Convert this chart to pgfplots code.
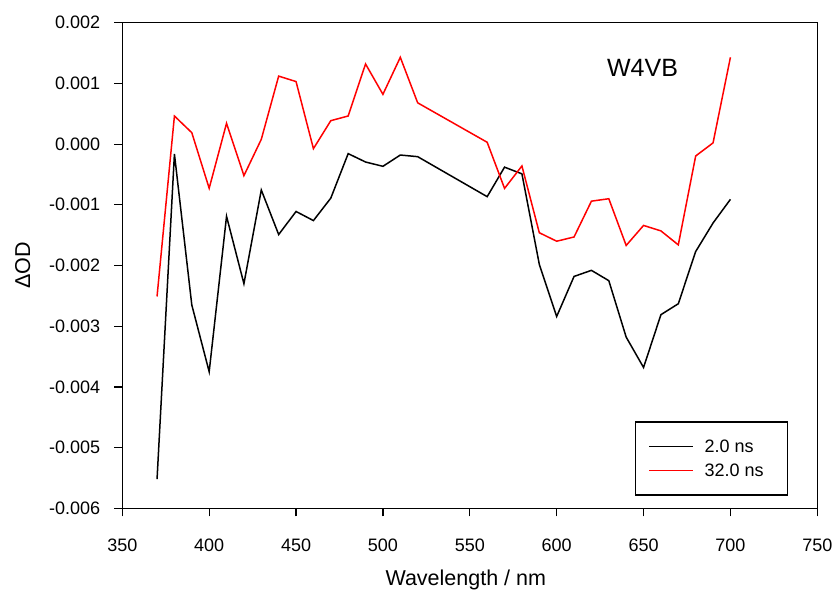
\documentclass[border=0pt]{standalone}
\usepackage{pgfplots}
\pgfplotsset{compat=1.18}
\usepackage{fontspec}
\setmainfont{Liberation Sans}
\begin{document}
\begin{tikzpicture}
\useasboundingbox (0,0) rectangle (837bp,591bp);
\begin{axis}[
  at={(122.3bp,82.7bp)}, anchor=south west,
  scale only axis, width=695bp, height=485.6bp,
  xmin=350, xmax=750, ymin=-0.006, ymax=0.002,
  xtick={350,400,...,750},
  ytick={-0.006,-0.005,-0.004,-0.003,-0.002,-0.001,0,0.001,0.002},
  scaled y ticks=false, scaled x ticks=false,
  /pgf/number format/assume math mode=true,
  yticklabel style={/pgf/number format/fixed, /pgf/number format/fixed zerofill, /pgf/number format/precision=3},
  tick pos=left, tick align=outside, major tick length=8bp,
  axis line style={line width=1.2bp}, tick style={line width=1.2bp, black},
  ticklabel style={font=\fontsize{18bp}{20bp}\selectfont},
  xticklabel style={anchor=base, inner sep=0pt, yshift=-34.7bp},
  yticklabel style={anchor=east, inner sep=0pt, xshift=-14bp},
  xlabel={Wavelength / nm}, ylabel={ΔOD},
  label style={font=\fontsize{21.5bp}{24bp}\selectfont},
  x label style={at={(axis description cs:0.4942,0)}, anchor=base, yshift=-76.7bp, inner sep=0pt},
  y label style={at={(axis description cs:-0.1432,0.5)}, anchor=center, inner sep=0pt},
  legend image code/.code={\draw[#1] (0bp,0bp) -- (44bp,0bp);},
  legend style={draw=black, line width=1.2bp, at={(rel axis cs:0.7377,0.179)}, anchor=north west,
    inner xsep=13bp, inner ysep=12.2bp, column sep=10.4bp, row sep=0pt,
    nodes={inner sep=0pt, text height=18.3bp, text depth=6bp, font=\fontsize{18bp}{20bp}\selectfont}},
  legend cell align=left,
]
\addplot[black, line width=1.5bp] coordinates {
(370,-0.00552) (380,-0.000163) (390,-0.00265) (400,-0.00375) (410,-0.00119)
(420,-0.00230) (430,-0.000756) (440,-0.00149) (450,-0.00111) (460,-0.00126)
(470,-0.00089) (480,-0.000157) (490,-0.000295) (500,-0.000366) (510,-0.00018)
(520,-0.000207) (560,-0.000866) (570,-0.00038) (580,-0.00049) (590,-0.00198)
(600,-0.00284) (610,-0.00218) (620,-0.00208) (630,-0.00225) (640,-0.00318)
(650,-0.00368) (660,-0.00281) (670,-0.00263) (680,-0.00177) (690,-0.00130)
(700,-0.00091)
};
\addlegendentry{\makebox[70bp][l]{2.0 ns}}
\addplot[red, line width=1.5bp] coordinates {
(370,-0.00251) (380,0.000463) (390,0.000188) (400,-0.000728) (410,0.000343)
(420,-0.00052) (430,0.000079) (440,0.00112) (450,0.00103) (460,-0.000075)
(470,0.000386) (480,0.000463) (490,0.00132) (500,0.00082) (510,0.00143)
(520,0.00068) (560,0.00003) (570,-0.00073) (580,-0.00036) (590,-0.00146)
(600,-0.00160) (610,-0.00153) (620,-0.00094) (630,-0.00090) (640,-0.00167)
(650,-0.00134) (660,-0.00143) (670,-0.00166) (680,-0.000196) (690,0.00002)
(700,0.00143)
};
\addlegendentry{\makebox[70bp][l]{32.0 ns}}
\node[font=\fontsize{25bp}{28bp}\selectfont, inner sep=0pt] at (axis cs:649.4,0.00126) {W4VB};
\end{axis}
\end{tikzpicture}
\end{document}
